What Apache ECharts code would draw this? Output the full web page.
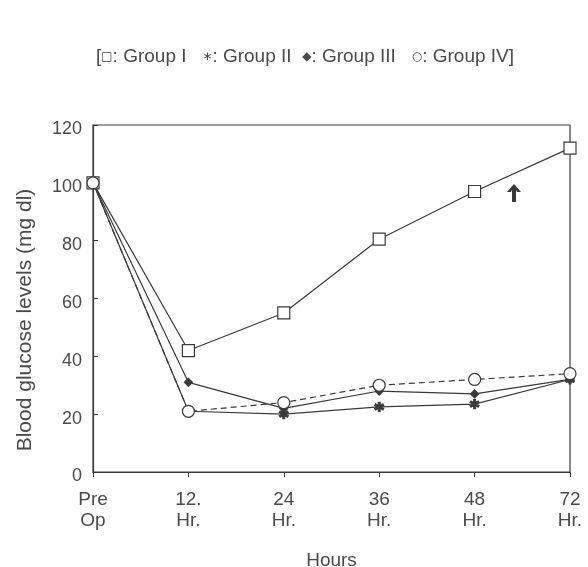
<!DOCTYPE html>
<html>
<head>
<meta charset="utf-8">
<script src="https://cdn.jsdelivr.net/npm/echarts@6/dist/echarts.min.js"></script>
<style>
  html, body { margin: 0; padding: 0; background: #fff; }
  #chart { width: 588px; height: 567px; }
</style>
</head>
<body>
<div id="chart"></div>
<script>
// time points (x axis)
const hours = ['Pre\nOp', '12.\nHr.', '24\nHr.', '36\nHr.', '48\nHr.', '72\nHr.'];
// blood glucose (mg dl)
const groupI = [100, 42, 55, 80.5, 97, 112];
const groupII = [100, 21, 20, 22.5, 23.5, 32];
const groupIII = [100, 31, 22, 28, 27, 32];
const groupIV = [100, 21, 24, 30, 32, 34];
const yTicks = [0, 20, 40, 60, 80, 100, 120];

const ink = '#3a3a3a';
const txt = '#4a4a4a';
const font = 'Liberation Sans, Arial, sans-serif';

// asterisk shape for group II
const asterisk = 'path://M4,0 L6,0 L6,3.3 L9,1.6 L10,3.3 L7,5 L10,6.7 L9,8.4 L6,6.7 L6,10 L4,10 L4,6.7 L1,8.4 L0,6.7 L3,5 L0,3.3 L1,1.6 L4,3.3 Z';

function line(name, data, symbol, size, fill, dashed, z) {
    return {
        name: name,
        type: 'line',
        data: data,
        symbol: symbol,
        symbolSize: size,
        showAllSymbol: true,
        z: z,
        lineStyle: { color: ink, width: 1.2, type: dashed ? [6, 4] : 'solid' },
        itemStyle: { color: fill, borderColor: ink, borderWidth: 1.2 },
        emphasis: { disabled: true }
    };
}

let myChart = echarts.init(document.getElementById('chart'), null, { renderer: 'canvas' });
let option = {
    animation: false,
    backgroundColor: '#fff',
    textStyle: { fontFamily: font },
    title: {
        text: '[{s|\u25A1}: Group I   {s|\u2217}: Group II  {s|\u25C6}: Group III   {s|\u25CB}: Group IV]',
        left: 300,
        textAlign: 'center',
        top: 42,
        textStyle: {
            color: txt, fontSize: 19, fontWeight: 'normal', fontFamily: font,
            rich: { s: { fontSize: 12, color: txt, fontFamily: 'DejaVu Sans' } }
        }
    },
    grid: {
        left: 93,
        right: 18,
        top: 125,
        bottom: 95,
        outerBoundsMode: 'none',
        containLabel: false,
        show: true,
        borderColor: ink,
        borderWidth: 1.2
    },
    xAxis: {
        type: 'category',
        data: hours,
        boundaryGap: false,
        name: 'Hours',
        nameLocation: 'middle',
        nameGap: 79,
        nameTextStyle: { color: txt, fontSize: 19 },
        axisLine: { lineStyle: { color: ink, width: 1.2 } },
        axisTick: { length: 5, lineStyle: { color: ink } },
        axisLabel: { color: txt, fontSize: 19, lineHeight: 21, margin: 17 },
        splitLine: { show: false }
    },
    yAxis: {
        type: 'value',
        min: yTicks[0],
        max: yTicks[yTicks.length - 1],
        interval: yTicks[1] - yTicks[0],
        axisLine: { show: true, lineStyle: { color: ink, width: 1.2 } },
        axisTick: { show: true, inside: true, length: 5, lineStyle: { color: ink } },
        axisLabel: { color: txt, fontSize: 18, margin: 11, verticalAlign: 'top', lineHeight: 9 },
        splitLine: { show: false }
    },
    series: [
        line('Group I', groupI, 'rect', 12, '#fff', false, 3),
        line('Group II', groupII, asterisk, 9, ink, false, 2),
        line('Group III', groupIII, 'diamond', 8, ink, false, 2),
        line('Group IV', groupIV, 'circle', 12, '#fff', true, 4)
    ],
    graphic: [{
        type: 'text',
        x: 25,
        y: 320,
        rotation: Math.PI / 2,
        style: {
            text: 'Blood glucose levels (mg dl)',
            fill: txt,
            font: '21px Liberation Sans, Arial, sans-serif',
            align: 'center',
            verticalAlign: 'middle'
        }
    }, {
        type: 'polygon',
        left: 507,
        top: 184,
        shape: {
            points: [[7, 0], [14, 8], [10, 8], [9, 6], [9, 18], [5, 18], [5, 6], [4, 8], [0, 8]]
        },
        style: { fill: ink }
    }]
};
myChart.setOption(option);
</script>
</body>
</html>
